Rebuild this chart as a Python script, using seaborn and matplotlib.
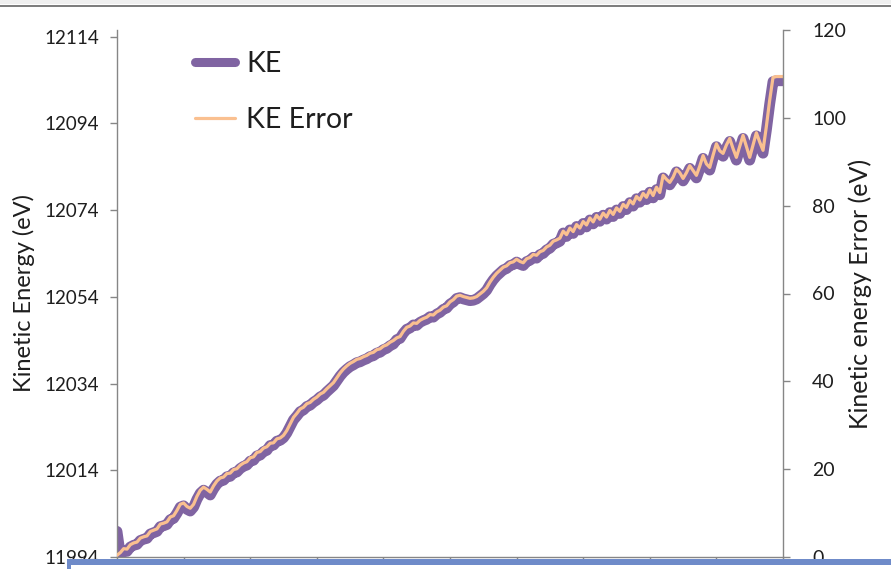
import matplotlib
matplotlib.use("Agg")
import matplotlib.pyplot as plt
import pandas as pd
import seaborn as sns
from matplotlib.lines import Line2D
from matplotlib.patches import Rectangle

# sample index along the run
sample = list(range(201))

# kinetic energy error (eV), right axis
ke_error = [
    0.4, 1.0, 1.9, 1.8, 2.8, 3.2, 3.4, 4.3, 4.6, 4.8,
    5.8, 6.1, 6.4, 7.5, 7.7, 8.0, 9.1, 9.4, 10.6, 12.0,
    12.3, 11.5, 11.1, 12.0, 13.8, 15.2, 15.9, 15.4, 14.8, 16.2,
    17.3, 18.0, 18.2, 19.0, 19.1, 19.9, 20.1, 20.9, 21.4, 21.7,
    22.6, 22.8, 23.8, 24.0, 24.8, 25.1, 25.9, 26.0, 26.9, 27.1,
    27.7, 28.8, 30.3, 31.8, 32.7, 33.7, 34.1, 34.9, 35.2, 35.9,
    36.4, 37.1, 37.5, 38.3, 39.0, 39.7, 40.8, 41.9, 42.8, 43.5,
    44.1, 44.5, 45.0, 45.2, 45.6, 45.9, 46.4, 46.6, 47.2, 47.4,
    48.0, 48.3, 48.9, 49.3, 49.9, 50.2, 51.4, 52.3, 52.6, 53.3,
    53.2, 53.9, 54.3, 54.6, 55.2, 55.1, 55.8, 56.2, 56.9, 57.2,
    58.1, 58.6, 59.4, 59.6, 59.3, 59.1, 58.9, 59.0, 59.3, 59.9,
    60.5, 61.3, 62.6, 63.7, 64.6, 65.3, 66.0, 66.3, 67.0, 67.2,
    67.8, 67.3, 67.0, 67.9, 68.2, 68.9, 68.7, 69.5, 69.8, 70.6,
    71.0, 71.9, 72.2, 72.6, 74.2, 73.4, 74.9, 74.1, 75.7, 74.9,
    76.4, 75.6, 77.2, 76.3, 77.8, 76.9, 78.3, 77.4, 78.9, 78.0,
    79.5, 78.7, 80.3, 79.6, 81.2, 80.4, 82.1, 81.3, 82.8, 81.9,
    83.6, 82.3, 84.2, 83.0, 86.9, 86.0, 85.3, 86.5, 88.3, 87.5,
    86.2, 87.5, 89.1, 88.0, 86.9, 89.0, 91.4, 89.5, 88.7, 91.5,
    94.1, 92.5, 91.9, 93.8, 95.3, 93.0, 91.0, 93.5, 96.0, 93.5,
    91.0, 93.8, 96.6, 94.5, 92.6, 98.0, 104.0, 109.2, 109.4, 109.4,
    109.4,
]

# kinetic energy (eV), left axis
ke = [
    11999.9, 11994.5, 11995.4, 11995.3, 11996.3, 11996.7, 11996.9, 11997.8, 11998.1, 11998.3,
    11999.3, 11999.6, 11999.9, 12001.0, 12001.2, 12001.5, 12002.6, 12002.9, 12004.1, 12005.5,
    12005.8, 12005.0, 12004.6, 12005.5, 12007.3, 12008.7, 12009.4, 12008.9, 12008.3, 12009.7,
    12010.8, 12011.5, 12011.7, 12012.5, 12012.6, 12013.4, 12013.6, 12014.4, 12014.9, 12015.2,
    12016.1, 12016.3, 12017.3, 12017.5, 12018.3, 12018.6, 12019.7, 12019.8, 12020.7, 12020.9,
    12021.5, 12022.6, 12024.1, 12025.6, 12026.5, 12027.5, 12027.9, 12028.7, 12029.0, 12029.7,
    12030.2, 12030.9, 12031.3, 12032.1, 12032.8, 12033.5, 12034.6, 12035.7, 12036.6, 12037.3,
    12037.9, 12038.3, 12038.8, 12039.0, 12039.4, 12039.7, 12040.2, 12040.4, 12041.0, 12041.2,
    12041.8, 12042.1, 12042.7, 12043.1, 12044.1, 12044.4, 12045.6, 12046.5, 12046.8, 12047.5,
    12047.4, 12048.1, 12048.5, 12048.8, 12049.4, 12049.3, 12050.0, 12050.4, 12051.1, 12051.4,
    12052.3, 12052.8, 12053.6, 12053.8, 12053.5, 12053.3, 12053.1, 12053.2, 12053.5, 12054.1,
    12054.7, 12055.5, 12056.8, 12057.9, 12058.8, 12059.5, 12060.2, 12060.5, 12061.2, 12061.4,
    12062.0, 12061.5, 12061.2, 12062.1, 12062.4, 12063.1, 12062.9, 12063.7, 12064.0, 12064.8,
    12065.2, 12066.1, 12066.4, 12066.8, 12068.7, 12067.9, 12069.4, 12068.6, 12070.2, 12069.4,
    12070.9, 12070.1, 12071.7, 12070.8, 12072.3, 12071.4, 12072.8, 12071.9, 12073.4, 12072.5,
    12074.0, 12073.2, 12074.8, 12074.1, 12075.7, 12074.9, 12076.6, 12075.8, 12077.3, 12076.4,
    12078.1, 12076.8, 12078.7, 12077.5, 12081.4, 12080.5, 12079.8, 12081.0, 12082.8, 12082.0,
    12080.7, 12082.0, 12083.6, 12082.5, 12081.4, 12083.5, 12085.9, 12084.0, 12083.2, 12086.0,
    12088.6, 12087.0, 12086.4, 12088.3, 12089.8, 12087.5, 12085.5, 12088.0, 12090.5, 12088.0,
    12085.5, 12088.3, 12091.1, 12089.0, 12087.1, 12092.4, 12098.4, 12103.6, 12103.8, 12103.8,
    12103.8,
]

left_ticks = [11994, 12014, 12034, 12054, 12074, 12094, 12114]
right_ticks = [0, 20, 40, 60, 80, 100, 120]
x_ticks = list(range(0, 201, 20))

PURPLE = "#8064A2"
ORANGE = "#FAC090"
AXIS_GREY = "#868686"
TEXT = "#1e1e1e"

sns.set_theme(style="white")
plt.rcParams["font.family"] = ["Lato", "DejaVu Sans"]

W, H = 891, 569
fig = plt.figure(figsize=(W / 100, H / 100), dpi=100)
fig.patch.set_facecolor("white")

ax = fig.add_axes([117 / W, 1 - 557 / H, 666 / W, 527 / H])
ax2 = ax.twinx()

df = pd.DataFrame({"sample": sample, "KE": ke, "KE Error": ke_error})

sns.lineplot(data=df, x="sample", y="KE", ax=ax, color=PURPLE, linewidth=7.8,
             solid_capstyle="round", solid_joinstyle="round", legend=False)
sns.lineplot(data=df, x="sample", y="KE Error", ax=ax2, color=ORANGE, linewidth=2.3,
             solid_capstyle="round", solid_joinstyle="round", legend=False)

ax.set_xlim(0, 200)
ax.set_ylim(11994, 12115.5)
ax2.set_ylim(0, 120)

ax.set_xticks(x_ticks)
ax.set_xticklabels([])
ax.set_yticks(left_ticks)
ax.set_yticklabels([str(t) for t in left_ticks])
ax2.set_yticks(right_ticks)
ax2.set_yticklabels([str(t) for t in right_ticks])
ax.set_xlabel("")

for a in (ax, ax2):
    for s in a.spines.values():
        s.set_visible(False)
ax.spines["left"].set_visible(True)
ax.spines["bottom"].set_visible(True)
ax2.spines["right"].set_visible(True)
for s in (ax.spines["left"], ax.spines["bottom"], ax2.spines["right"]):
    s.set_color(AXIS_GREY)
    s.set_linewidth(1.0)

ax.tick_params(axis="y", left=True, direction="out", length=5, width=1,
               color=AXIS_GREY, labelsize=13.5, labelcolor=TEXT, pad=8)
ax.tick_params(axis="x", bottom=True, direction="out", length=4, width=1,
               color=AXIS_GREY)
ax2.tick_params(axis="y", right=True, direction="out", length=5, width=1,
                color=AXIS_GREY, labelsize=14, labelcolor=TEXT, pad=16)

ax.set_ylabel("Kinetic Energy (eV)", fontsize=17, color=TEXT)
ax.yaxis.set_label_coords((35 - 117) / 666, 0.5)
ax2.set_ylabel("Kinetic energy Error (eV)", fontsize=18, color=TEXT)
ax2.yaxis.set_label_coords((848 - 117) / 666, 0.5)

handles = [
    Line2D([], [], color=PURPLE, linewidth=6.5, solid_capstyle="round"),
    Line2D([], [], color=ORANGE, linewidth=2.3),
]
leg = ax2.legend(handles, ["KE", "KE Error"], loc="upper left",
                 bbox_to_anchor=(195 / W, 1 - 51 / H), bbox_transform=fig.transFigure,
                 frameon=False, fontsize=20.5, handlelength=1.4, handletextpad=0.39,
                 labelspacing=1.05, borderpad=0, borderaxespad=0)
for t in leg.get_texts():
    t.set_color(TEXT)

# window chrome: top rule and the blue strip along the bottom edge
fig.patches.append(Rectangle((0, 1 - 4 / H), 1, 4 / H, transform=fig.transFigure,
                             facecolor="#f0f0f0", edgecolor="none", zorder=10))
fig.patches.append(Rectangle((0, 1 - 6.5 / H), 1, 2 / H, transform=fig.transFigure,
                             facecolor="#7f7f7f", edgecolor="none", zorder=10))
fig.patches.append(Rectangle((67 / W, 0), 1, 10 / H, transform=fig.transFigure,
                             facecolor="#6f8bc9", edgecolor="none", zorder=10))
fig.patches.append(Rectangle((71 / W, 0), 1, 4 / H, transform=fig.transFigure,
                             facecolor="white", edgecolor="none", zorder=11))

fig.savefig("out.png", dpi=100)
